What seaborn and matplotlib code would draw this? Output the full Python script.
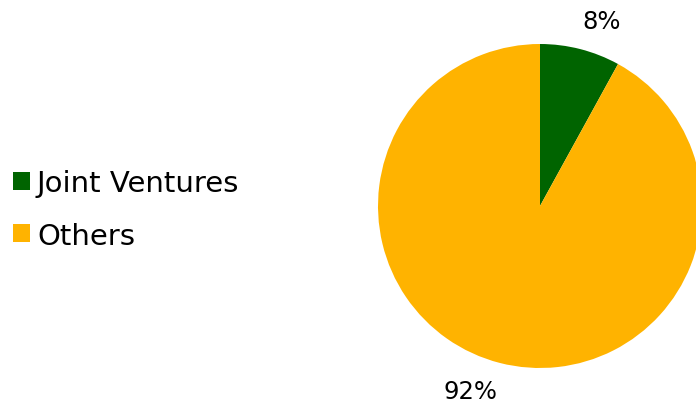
import matplotlib
matplotlib.use("Agg")
import matplotlib.pyplot as plt
import seaborn as sns

categories = ["Joint Ventures", "Others"]
shares = [8, 92]
colors = ["#006400", "#FFB300"]

sns.set_theme(style="white")
plt.rcParams["font.family"] = ["DejaVu Sans"]

fig = plt.figure(figsize=(6.96, 4.06), dpi=100)
ax = fig.add_axes([378 / 696, 37 / 406, 324 / 696, 324 / 406])

wedges, texts, autotexts = ax.pie(
    shares,
    colors=colors,
    startangle=90,
    counterclock=False,
    autopct=lambda p: f"{p:.0f}%",
    pctdistance=1.2,
    wedgeprops=dict(linewidth=0),
    textprops=dict(fontsize=17.5, color="#000000"),
)
# outside-end label placement
autotexts[0].set_position((0.383, 1.142))
autotexts[1].set_position((-0.426, -1.142))
for t in autotexts:
    t.set_clip_on(False)
ax.set_xlim(-1, 1)
ax.set_ylim(-1, 1)
ax.set_aspect("equal")
ax.axis("off")

leg = fig.legend(
    wedges,
    categories,
    loc="center left",
    bbox_to_anchor=(13 / 696, 0.482),
    frameon=False,
    fontsize=21,
    handlelength=0.57,
    handleheight=0.57,
    handletextpad=0.25,
    labelspacing=0.85,
    borderpad=0,
    borderaxespad=0,
)
for t in leg.get_texts():
    t.set_color("#000000")

fig.savefig("out.png", dpi=100)
